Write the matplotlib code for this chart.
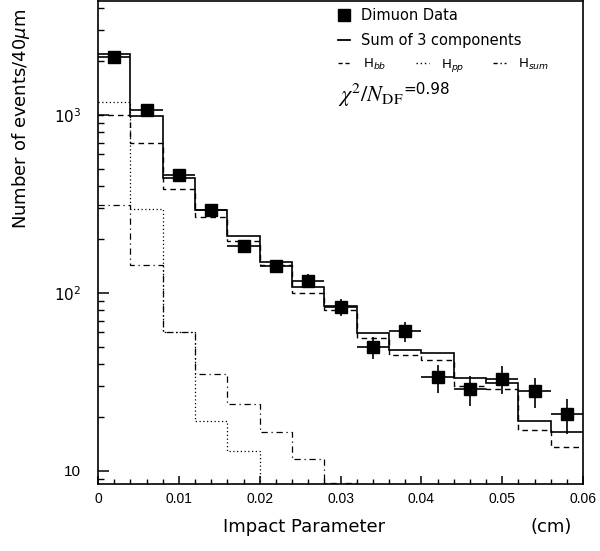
import numpy as np
import matplotlib
matplotlib.use("Agg")
import matplotlib.pyplot as plt
from matplotlib.lines import Line2D
from matplotlib.ticker import NullFormatter

# binning: 40 micron bins from 0 to 0.06 cm
bin_edges = np.linspace(0.0, 0.06, 16)
bin_centers = 0.5 * (bin_edges[:-1] + bin_edges[1:])

# dimuon data points and errors
data_counts = [2120, 1067, 459, 292, 183, 141, 117, 83, 49.6, 61, 33.6, 28.8, 33, 28, 20.8]
data_err = [46, 33, 21, 17, 13.5, 12, 11, 9, 7, 8, 6, 5.5, 6, 5.5, 4.7]

# fitted components
sum_counts = [2200, 987, 442, 292, 208, 150, 108, 84, 59.6, 47.7, 46, 33.5, 31.3, 19, 16.5]
hbb_counts = [1000, 695, 383, 266, 195, 143, 100, 80, 56, 45, 42, 30, 28.8, 16.9, 13.7]
hpp_counts = [1183, 297, 60, 19.2, 13, 1, 1, 1, 1, 1, 1, 1, 1, 1, 1]
hsum_counts = [312, 143, 60, 35, 23.7, 16.5, 11.7, 8.6, 1, 1, 1, 1, 1, 1, 1]

ytick_vals = [10, 100, 1000]
ytick_labels = ['10', '$10^{2}$', '$10^{3}$']
xtick_vals = [0, 0.01, 0.02, 0.03, 0.04, 0.05, 0.06]
xtick_labels = ['0', '0.01', '0.02', '0.03', '0.04', '0.05', '0.06']

fig = plt.figure(figsize=(6, 5.51), dpi=100)
ax = fig.add_axes([98 / 600, 67 / 551, 485 / 600, 483 / 551])
ax.set_yscale('log')

ax.stairs(sum_counts, bin_edges, baseline=None, color='black', lw=1.2, ls='-')
ax.stairs(hbb_counts, bin_edges, baseline=None, color='black', lw=1.0, ls=(0, (4, 3)))
ax.stairs(hpp_counts, bin_edges, baseline=None, color='black', lw=0.9, ls=(0, (1, 2)))
ax.stairs(hsum_counts, bin_edges, baseline=None, color='black', lw=0.9, ls=(0, (5, 3, 1, 3)))

ax.errorbar(bin_centers, data_counts, xerr=0.002, yerr=data_err, fmt='s', color='black',
            ms=8, elinewidth=1.2, capsize=0)

ax.set_xlim(0, 0.06)
ax.set_ylim(8.45, 4370)

ax.set_xticks(xtick_vals)
ax.set_xticklabels(xtick_labels, family='Liberation Sans', fontsize=10)
ax.set_xticks(np.arange(0, 0.0601, 0.002), minor=True)
ax.set_yticks(ytick_vals)
ax.set_yticklabels(ytick_labels, family='Liberation Sans', fontsize=11)
ax.yaxis.set_minor_formatter(NullFormatter())
ax.tick_params(which='both', direction='in', top=False, right=False)
ax.tick_params(axis='y', which='major', length=8, width=1.1, pad=12)
ax.tick_params(axis='y', which='minor', length=4.5, width=1.0)
ax.tick_params(axis='x', which='major', length=6, width=1.1, pad=6)
ax.tick_params(axis='x', which='minor', length=3.5, width=1.0)
for sp in ax.spines.values():
    sp.set_linewidth(1.2)

# legend
h1 = [Line2D([], [], marker='s', ls='none', color='black', ms=9),
      Line2D([], [], color='black', lw=1.3)]
leg1 = ax.legend(h1, ['Dimuon Data', 'Sum of 3 components'], loc='upper left',
                 bbox_to_anchor=(0.495, 0.985), frameon=False, fontsize=10.5,
                 handlelength=0.8, handletextpad=0.8, labelspacing=0.7,
                 borderpad=0, borderaxespad=0)
ax.add_artist(leg1)
h2 = [Line2D([], [], color='black', lw=1.0, ls=(0, (3, 2))),
      Line2D([], [], color='black', lw=1.0, ls=(0, (1, 2))),
      Line2D([], [], color='black', lw=1.0, ls=(0, (3, 2, 1, 2)))]
ax.legend(h2, ['H$_{bb}$', 'H$_{pp}$', 'H$_{sum}$'], loc='upper left',
          bbox_to_anchor=(0.495, 0.885), frameon=False, fontsize=9.5, ncol=3,
          handlelength=1.0, handletextpad=0.9, columnspacing=2.2,
          borderpad=0, borderaxespad=0)

chi = ax.text(0.495, 0.805, r'$\chi^2/N_{\rm DF}$', transform=ax.transAxes,
              fontsize=16, math_fontfamily='stix', ha='left', va='center')
ax.annotate('=0.98', xy=(1.0, 0.45), xycoords=chi, fontsize=11, ha='left', va='bottom')

fig.text(21 / 600, 1 - 119 / 551, r'Number of events/40$\mu$m', rotation=90,
         ha='center', va='center', fontsize=13)
fig.text(304 / 600, 1 - 527 / 551, 'Impact Parameter', ha='center', va='center', fontsize=13)
fig.text(551 / 600, 1 - 527 / 551, '(cm)', ha='center', va='center', fontsize=13)

fig.savefig('out.png', dpi=100)
plt.close(fig)
